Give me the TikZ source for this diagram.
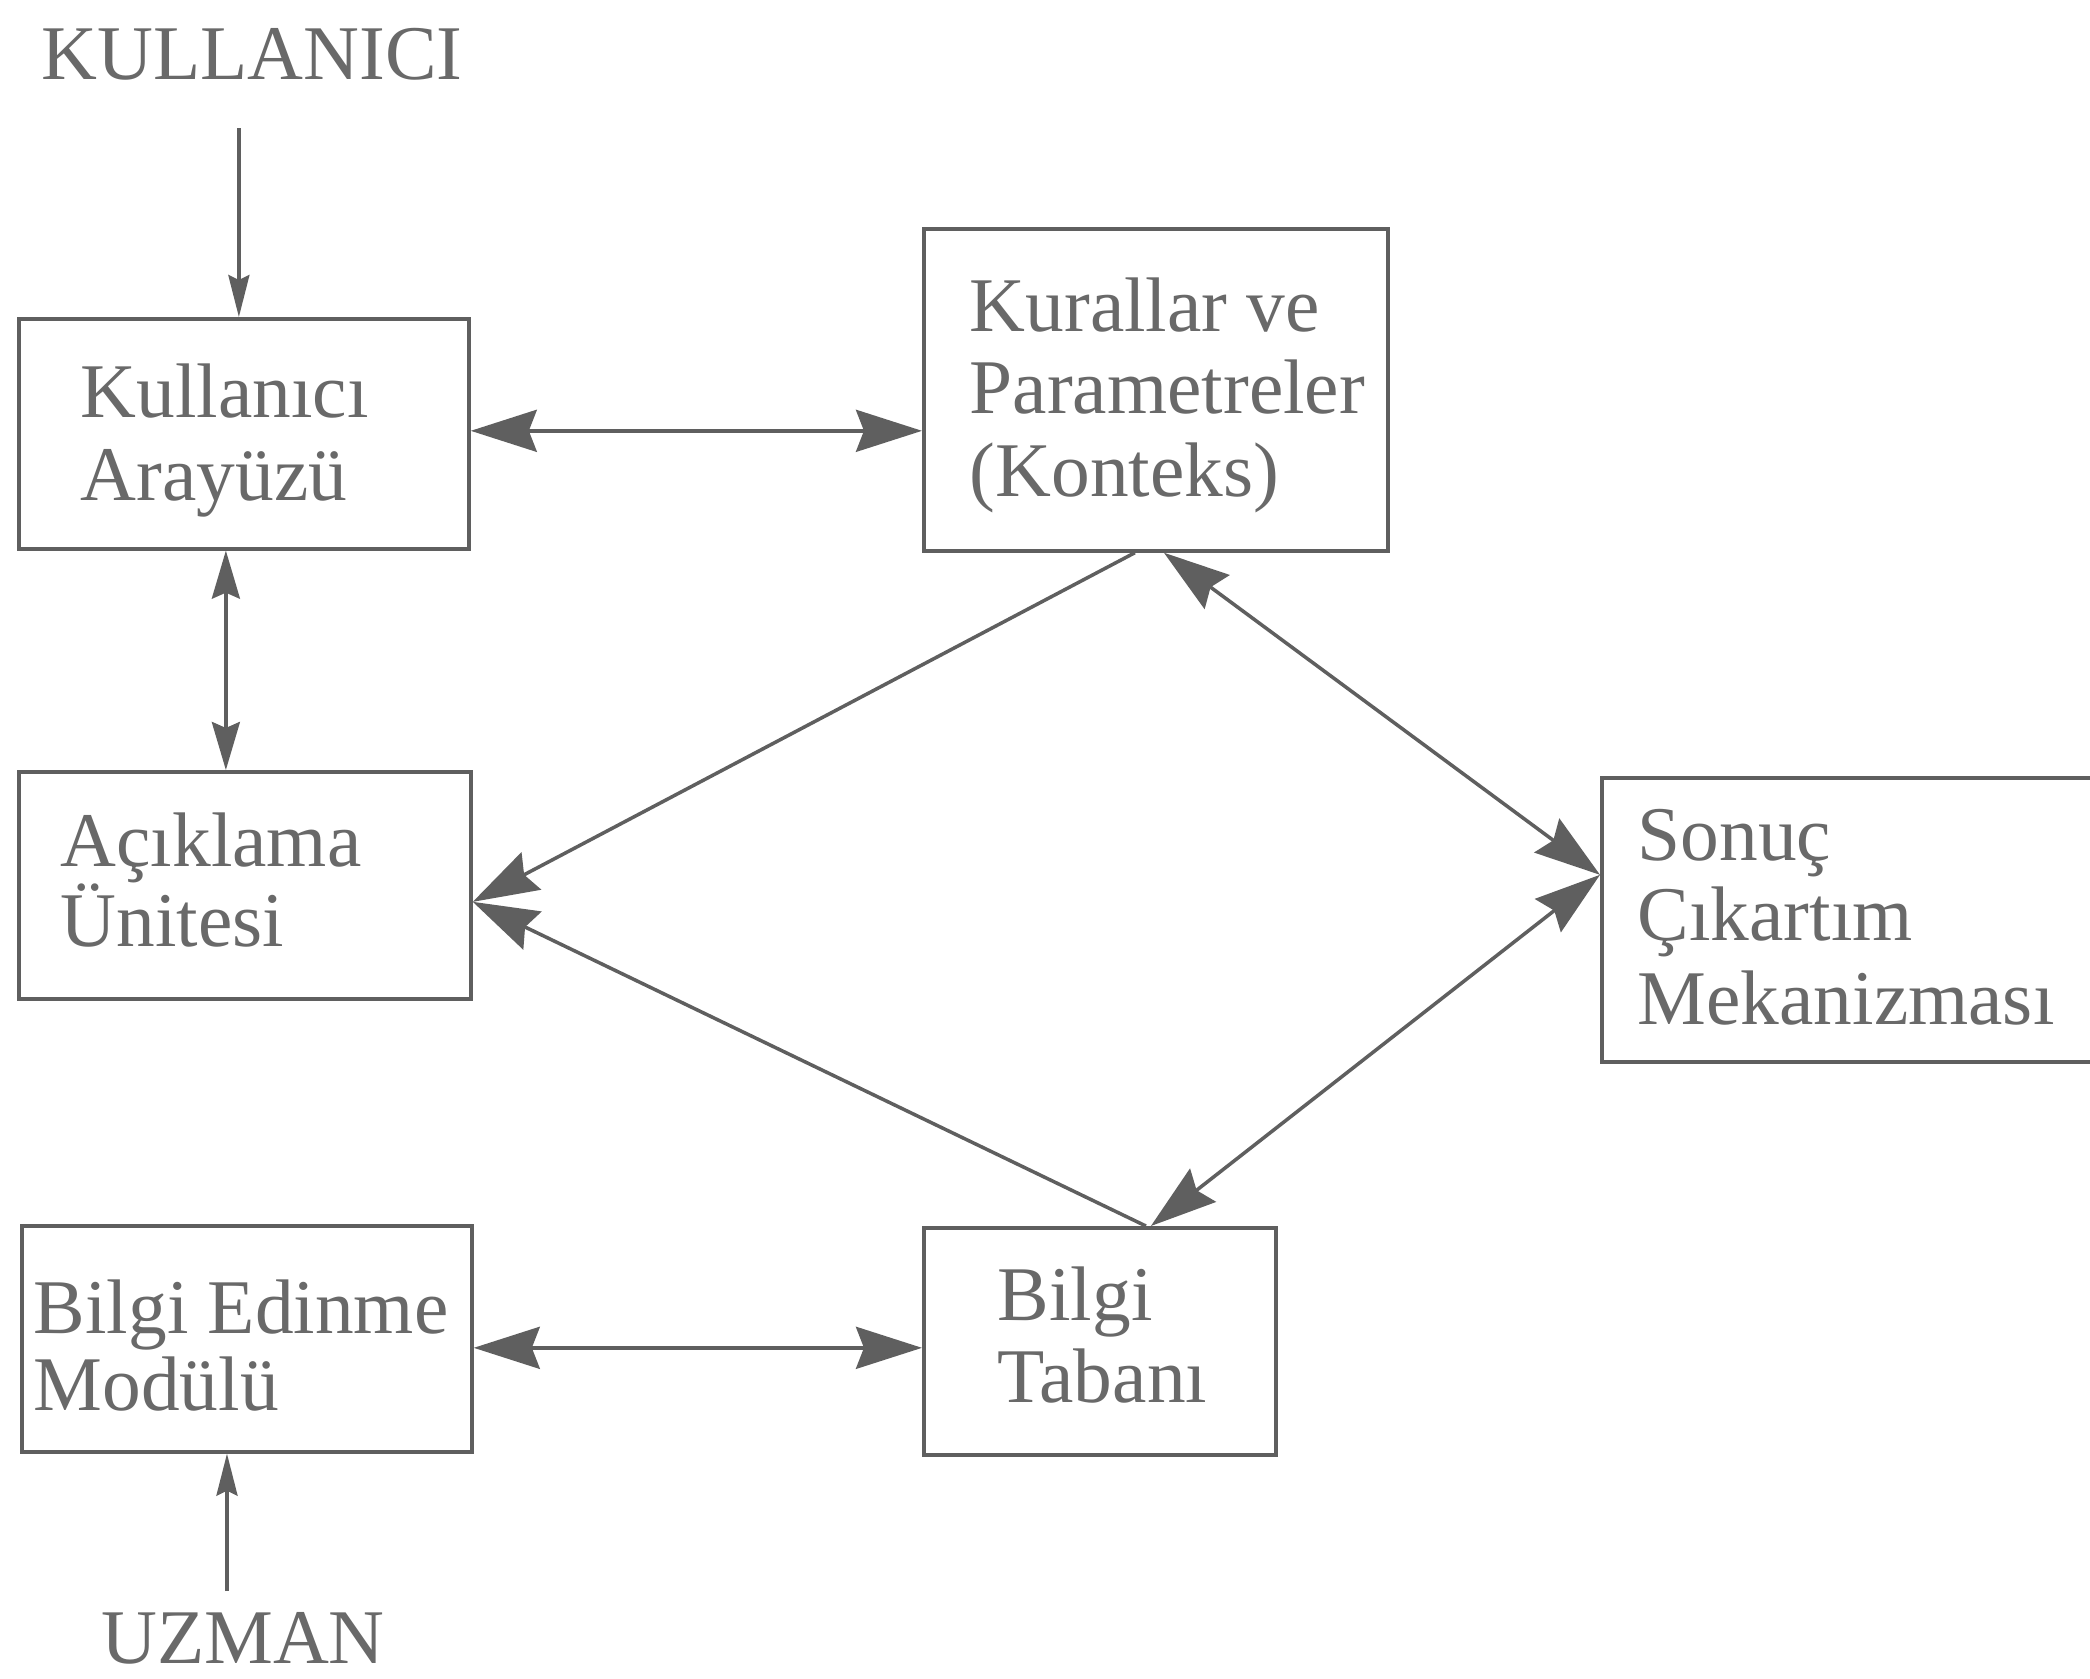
\documentclass[tikz,border=0pt]{standalone}
\usepackage{fontspec}
\setmainfont{Liberation Serif}
\usetikzlibrary{arrows.meta}
\definecolor{ink}{RGB}{95,95,95}
\definecolor{txt}{RGB}{105,105,105}
\newcommand\diafont{\fontsize{22}{23.6}\selectfont}
\tikzset{
  box/.style={draw=ink, line width=1pt, rectangle, inner sep=0pt, anchor=north west},
  tx/.style={text=txt, font=\diafont, inner sep=0pt, anchor=base west},
  conn/.style={draw=ink, line width=1pt},
  BigHead/.tip={Stealth[length=0.66cm,width=0.42cm,inset=0.08cm]},
  MidHead/.tip={Stealth[length=0.48cm,width=0.28cm,inset=0.06cm]},
  SmallHead/.tip={Stealth[length=0.42cm,width=0.21cm,inset=0.05cm]}
}
\begin{document}
\begin{tikzpicture}[x=0.01cm,y=-0.01cm]
\clip (0,0) rectangle (2090,1679);
\fill[white] (0,0) rectangle (2090,1679);

% boxes
\node[box, minimum width=4.5cm, minimum height=2.3cm] (A) at (17,317) {};
\node[tx] (A1) at (80,417) {Kullanıcı};
\node[tx] (A2) at (80,500) {Arayüzü};

\node[box, minimum width=4.64cm, minimum height=3.22cm] (K) at (922,227) {};
\node[tx] (K1) at (969,331) {Kurallar ve};
\node[tx] (K2) at (969,413) {Parametreler};
\node[tx] (K3) at (969,496) {(Konteks)};

\node[box, minimum width=4.52cm, minimum height=2.27cm] (C) at (17,770) {};
\node[tx] (C1) at (60,866) {Açıklama};
\node[tx] (C2) at (60,946) {Ünitesi};

\node[box, minimum width=5.0cm, minimum height=2.84cm] (S) at (1600,776) {};
\node[tx] (S1) at (1637,860) {Sonuç};
\node[tx] (S2) at (1637,940) {Çıkartım};
\node[tx] (S3) at (1637,1024) {Mekanizması};

\node[box, minimum width=4.5cm, minimum height=2.26cm] (E) at (20,1224) {};
\node[tx] (E1) at (33,1333) {Bilgi Edinme};
\node[tx] (E2) at (33,1410) {Modülü};

\node[box, minimum width=3.52cm, minimum height=2.27cm] (T) at (922,1226) {};
\node[tx] (T1) at (997,1320) {Bilgi};
\node[tx] (T2) at (997,1402) {Tabanı};

\node[tx, anchor=base] (KUL) at (252,80) {KULLANICI};
\node[tx, anchor=base] (UZ) at (243,1663) {UZMAN};

% connectors
\coordinate (kulA) at ([xshift=-0.05cm]A.north);
\coordinate (kulS) at ([yshift=-0.47cm]KUL.south);
\draw[conn, -{SmallHead}] (kulA |- kulS) -- (kulA);

\coordinate (acx) at ([xshift=-0.18cm]A.south);
\draw[conn, {MidHead}-{MidHead}] (acx) -- (acx |- C.north);

\coordinate (ak) at ([yshift=0.03cm]A.east);
\draw[conn, {BigHead}-{BigHead}] (ak) -- (ak -| K.west);

\coordinate (et) at ([yshift=-0.09cm]E.east);
\draw[conn, {BigHead}-{BigHead}] (et) -- (et -| T.west);

\coordinate (uzb) at ([xshift=-0.16cm,yshift=0.2cm]UZ.north);
\draw[conn, -{SmallHead}] (uzb) -- (uzb |- E.south);

\coordinate (kc) at ([xshift=-0.21cm]K.south);
\coordinate (ks) at ([xshift=0.08cm]K.south);
\coordinate (cin) at ([yshift=-0.165cm]C.east);
\coordinate (sin) at ([yshift=0.45cm]S.west);
\coordinate (tc) at ([xshift=0.46cm]T.north);
\coordinate (ts) at ([xshift=0.51cm]T.north);
\draw[conn, -{BigHead}] (kc) -- (cin);
\draw[conn, {BigHead}-{BigHead}] (ks) -- (sin);
\draw[conn, -{BigHead}] (tc) -- (cin);
\draw[conn, {BigHead}-{BigHead}] (ts) -- (sin);
\end{tikzpicture}
\end{document}
